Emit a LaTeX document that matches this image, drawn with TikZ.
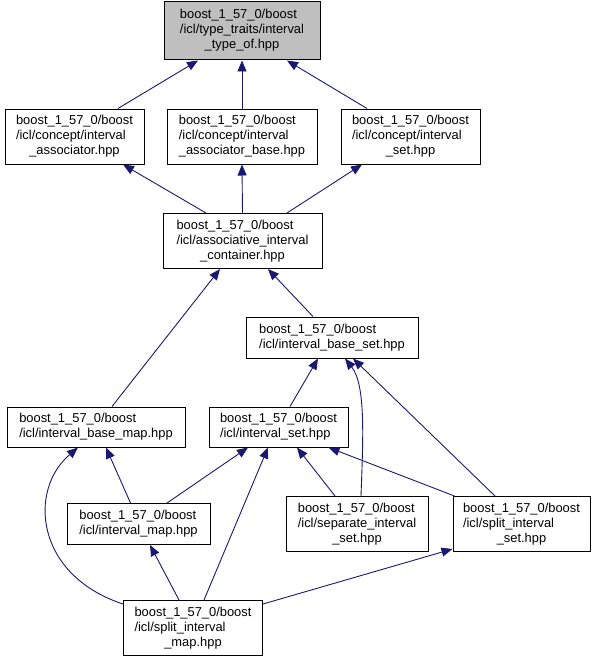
\documentclass[tikz,border=0pt]{standalone}
\usepackage{fontspec}
\setmainfont{Liberation Sans}
\usepackage{xcolor}
\usepackage{tikz}
\usetikzlibrary{arrows.meta, calc}
\definecolor{edgecolor}{RGB}{25,25,112}
\definecolor{rootcolor}{RGB}{191,191,191}
\newcommand{\hdrlong}[3]{\begin{tabular}{@{}l@{}}#1\\#2\\\multicolumn{1}{@{}c@{}}{#3}\end{tabular}}
\newcommand{\hdrshort}[2]{\begin{tabular}{@{}l@{}}#1\\#2\end{tabular}}

\begin{document}
\begin{tikzpicture}[
    x=1pt, y=-1pt,
    header/.style={draw, line width=1pt, fill=white, inner sep=0pt, minimum height=55pt, font=\fontsize{12.9}{15}\selectfont},
    dep/.style={-{Triangle[length=11pt,width=9pt]}, color=edgecolor, line width=0.9pt}
]
    \useasboundingbox (0,0) rectangle (597,661);

    \node[header, fill=rootcolor, minimum width=156pt, minimum height=58pt] (typeof) at (242,31) {\hdrlong{boost\_1\_57\_0/boost}{/icl/type\_traits/interval}{\_type\_of.hpp}};
    \node[header, minimum width=139pt] (assoc) at (74.5,136.5) {\hdrlong{boost\_1\_57\_0/boost}{/icl/concept/interval}{\_associator.hpp}};
    \node[header, minimum width=150pt] (assocbase) at (242,136.5) {\hdrlong{boost\_1\_57\_0/boost}{/icl/concept/interval}{\_associator\_base.hpp}};
    \node[header, minimum width=139pt] (cset) at (410.5,136.5) {\hdrlong{boost\_1\_57\_0/boost}{/icl/concept/interval}{\_set.hpp}};
    \node[header, minimum width=159pt] (aic) at (242.5,241) {\hdrlong{boost\_1\_57\_0/boost}{/icl/associative\_interval}{\_container.hpp}};
    \node[header, minimum width=172pt, minimum height=41pt] (ibset) at (332,337.5) {\hdrshort{boost\_1\_57\_0/boost}{/icl/interval\_base\_set.hpp}};
    \node[header, minimum width=178pt, minimum height=40pt] (ibmap) at (96,427) {\hdrshort{boost\_1\_57\_0/boost}{/icl/interval\_base\_map.hpp}};
    \node[header, minimum width=139pt, minimum height=40pt] (iset) at (278.5,427) {\hdrshort{boost\_1\_57\_0/boost}{/icl/interval\_set.hpp}};
    \node[header, minimum width=143pt, minimum height=41pt] (imap) at (138.5,524) {\hdrshort{boost\_1\_57\_0/boost}{/icl/interval\_map.hpp}};
    \node[header, minimum width=142pt] (sepset) at (357,524) {\hdrlong{boost\_1\_57\_0/boost}{/icl/separate\_interval}{\_set.hpp}};
    \node[header, minimum width=137pt] (splitset) at (521.5,524) {\hdrlong{boost\_1\_57\_0/boost}{/icl/split\_interval}{\_set.hpp}};
    \node[header, minimum width=139pt] (splitmap) at (193,628) {\hdrlong{boost\_1\_57\_0/boost}{/icl/split\_interval}{\_map.hpp}};

    % includes, pointing up to the included header
    \draw[dep] ([xshift=43.5pt]assoc.north) -- ([xshift=-44pt]typeof.south);
    \draw[dep] (assocbase.north) -- (typeof.south);
    \draw[dep] ([xshift=-43.5pt]cset.north) -- ([xshift=45pt]typeof.south);

    \draw[dep] ([xshift=-36.5pt]aic.north) -- ([xshift=48.5pt]assoc.south);
    \draw[dep] (aic.north) -- (assocbase.south);
    \draw[dep] ([xshift=44.5pt]aic.north) -- ([xshift=-48.5pt]cset.south);

    \draw[dep] ([xshift=-19pt]ibset.north) -- ([xshift=25.5pt]aic.south);
    \draw[dep] ([xshift=16pt]ibmap.north) -- ([xshift=-22.5pt]aic.south);

    \draw[dep] ([xshift=11.5pt]iset.north) -- ([xshift=-14pt]ibset.south);
    \draw[dep] ([xshift=4pt]sepset.north) .. controls (363,440) and (366,385) .. ([xshift=13pt]ibset.south);
    \draw[dep] ([xshift=-26.5pt]splitset.north) -- ([xshift=21pt]ibset.south);

    \draw[dep] ([xshift=-8pt]imap.north) -- ([xshift=10pt]ibmap.south);
    \draw[dep] ([yshift=-4pt]splitmap.north west) .. controls (35,575) and (28,490) .. ([xshift=-18pt]ibmap.south);

    \draw[dep] ([xshift=28.5pt]imap.north) -- ([xshift=-30.5pt]iset.south);
    \draw[dep] ([xshift=11pt]splitmap.north) -- ([xshift=-10.5pt]iset.south);
    \draw[dep] ([xshift=-22pt]sepset.north) -- ([xshift=18.5pt]iset.south);
    \draw[dep] ([xshift=2pt]splitset.north west) -- ([xshift=50pt]iset.south);

    \draw[dep] ([xshift=-14pt]splitmap.north) -- ([xshift=11.5pt]imap.south);
    \draw[dep] ([yshift=-4pt]splitmap.north east) -- ([yshift=3pt]splitset.south west);
\end{tikzpicture}
\end{document}
